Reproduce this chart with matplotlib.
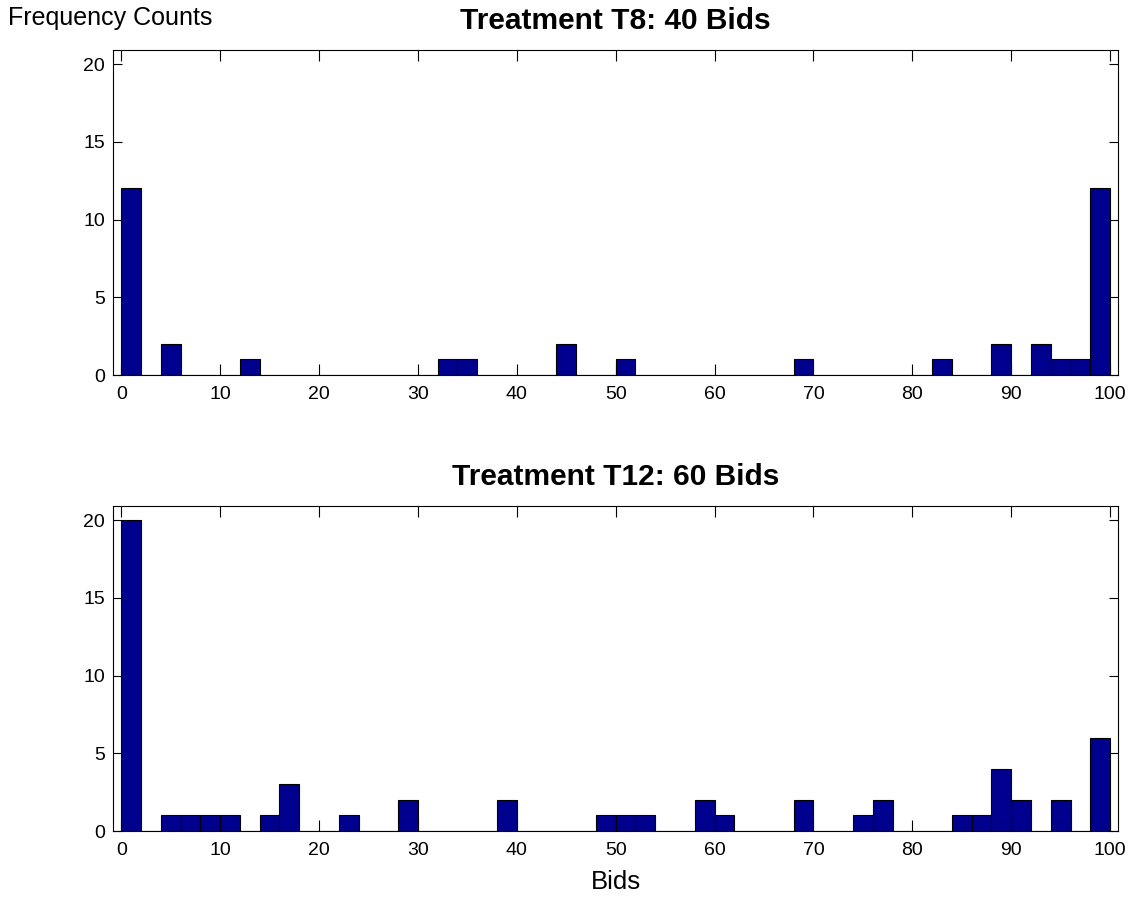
import numpy as np
import matplotlib
matplotlib.use("Agg")
import matplotlib.pyplot as plt

plt.rcParams['font.family'] = ['Liberation Sans', 'DejaVu Sans']

# histogram bins: 50 bins of width 2 from 0 to 100
bin_width = 2
bin_edges = np.arange(0, 100 + bin_width, bin_width)

# Treatment T8 (40 bids): bin left edge -> count
t8_bins = [0, 4, 12, 32, 34, 44, 50, 68, 82, 88, 92, 94, 96, 98]
t8_counts = [12, 2, 1, 1, 1, 2, 1, 1, 1, 2, 2, 1, 1, 12]

# Treatment T12 (60 bids)
t12_bins = [0, 4, 6, 8, 10, 14, 16, 22, 28, 38, 48, 50, 52, 58, 60,
            68, 74, 76, 84, 86, 88, 90, 94, 98]
t12_counts = [20, 1, 1, 1, 1, 1, 3, 1, 2, 2, 1, 1, 1, 2, 1,
              2, 1, 2, 1, 1, 4, 2, 2, 6]

titles = ['Treatment T8: 40 Bids', 'Treatment T12: 60 Bids']
xticks = np.arange(0, 101, 10)
yticks = [0, 5, 10, 15, 20]

bar_color = '#00008F'

fig = plt.figure(figsize=(11.31, 8.98), dpi=100)
ax1 = fig.add_axes([0.1002, 0.5824, 0.8883, 0.3619])
ax2 = fig.add_axes([0.1002, 0.0746, 0.8883, 0.3619])

for ax, bins, counts, title in [(ax1, t8_bins, t8_counts, titles[0]),
                                (ax2, t12_bins, t12_counts, titles[1])]:
    # expand to full 50-bin histogram
    full = np.zeros(len(bin_edges) - 1)
    for b, c in zip(bins, counts):
        full[b // bin_width] = c
    ax.hist(bin_edges[:-1], bins=bin_edges, weights=full,
            color=bar_color, edgecolor='black', linewidth=0.8)
    ax.set_xlim(-0.8, 100.8)
    ax.set_ylim(0, 20.9)
    ax.set_xticks(xticks)
    ax.set_yticks(yticks)
    ax.tick_params(axis='both', direction='in', top=True, right=True,
                   labelsize=14, width=0.8, colors='black')
    ax.tick_params(axis='x', length=8, pad=8)
    ax.tick_params(axis='y', length=6.5, pad=6)
    for s in ax.spines.values():
        s.set_linewidth(0.8)
    ax.set_title(title, fontsize=21.5, fontweight='bold', pad=15)

ax2.set_xlabel('Bids', fontsize=18.5, labelpad=8)
fig.text(8 / 1131, 1 - 18 / 898, 'Frequency Counts', fontsize=18,
         ha='left', va='center')

fig.savefig('out.png', dpi=100)
